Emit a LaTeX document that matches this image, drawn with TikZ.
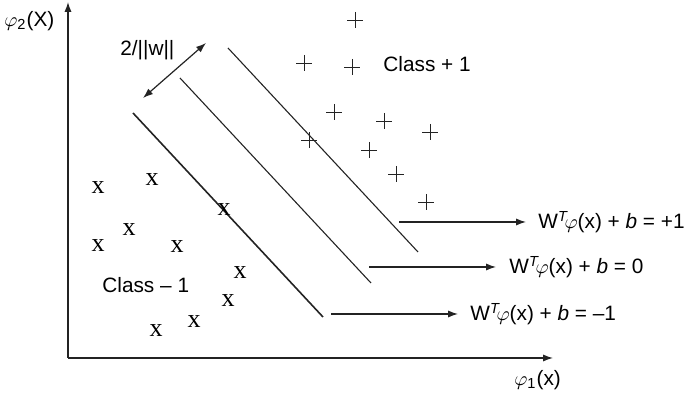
\documentclass[tikz,border=0pt]{standalone}
\usepackage{amsmath}
\usepackage{fontspec}
\setmainfont{Liberation Sans}
\newfontfamily\markfont{Liberation Serif}
\usepackage{tikz}
\usetikzlibrary{arrows.meta,positioning,calc}
\definecolor{inkgray}{RGB}{35,35,35}

\tikzset{
  axisline/.style={line width=0.6pt,inkgray,-{Latex[length=5pt,width=3.6pt]}},
  marginline/.style={line width=0.55pt,inkgray},
  pointer/.style={line width=0.6pt,inkgray,-{Latex[length=5pt,width=3.6pt]}},
  labeltext/.style={inner sep=0pt,anchor=west,font=\fontsize{10.4}{12}\selectfont},
  negmark/.style={inner sep=0pt,font=\markfont\fontsize{13}{13}\selectfont},
  posmark/.style={line width=0.45pt,inkgray}
}
\newcommand{\plusmark}[2]{\draw[posmark] (#1-8,#2) -- (#1+8,#2) (#1,#2-8) -- (#1,#2+8);}

\begin{document}
\begin{tikzpicture}[x=0.5pt,y=-0.5pt]
    \useasboundingbox (0,0) rectangle (687,395);

    % Feature space axes
    \coordinate (origin) at (68,358);
    \coordinate (ytop) at (68,2);
    \coordinate (xend) at (553,358);
    \draw[axisline] (origin) -- (ytop);
    \draw[axisline] (origin) -- (xend);
    \node[labeltext] (phitwo) at (4,21) {$\varphi_{\text{2}}$(X)};
    \node[labeltext] (phione) at (514,380) {$\varphi_{\text{1}}$(x)};

    % Margin and separating hyperplanes
    \coordinate (lowA) at (133,113);  \coordinate (lowB) at (323,317);
    \coordinate (midA) at (180,78);   \coordinate (midB) at (371,283);
    \coordinate (upA) at (228,48);    \coordinate (upB) at (418,252);
    \draw[marginline,line width=0.8pt] (lowA) -- (lowB);
    \draw[marginline] (midA) -- (midB);
    \draw[marginline] (upA) -- (upB);

    % Margin width
    \coordinate (gapA) at (143,98);
    \coordinate (gapB) at (206,43);
    \draw[pointer,{Latex[length=5pt,width=3.6pt]}-{Latex[length=5pt,width=3.6pt]}] (gapA) -- (gapB);
    \node[labeltext] (gaplabel) at (120,50) {2/||w||};

    % Hyperplane equations
    \coordinate (eqplusA) at (399,222);  \coordinate (eqplusB) at (526,222);
    \coordinate (eqzeroA) at (369,267);  \coordinate (eqzeroB) at (496,267);
    \coordinate (eqminusA) at (331,314); \coordinate (eqminusB) at (458,314);
    \draw[pointer] (eqplusA) -- (eqplusB);
    \draw[pointer] (eqzeroA) -- (eqzeroB);
    \draw[pointer] (eqminusA) -- (eqminusB);
    \node[labeltext,right=6pt of eqplusB] (eqplus) {W$^{\textit{T}}\!\varphi$(x) + \textit{b} = +1};
    \node[labeltext,right=6.5pt of eqzeroB] (eqzero) {W$^{\textit{T}}\!\varphi$(x) + \textit{b} = 0};
    \node[labeltext,right=6pt of eqminusB] (eqminus) {W$^{\textit{T}}\!\varphi$(x) + \textit{b} = –1};

    % Class +1 samples
    \foreach \px/\py in {355/20, 304/63, 352/67, 334/112, 384/121, 430/132,
                         309/140, 369/150, 396/174, 426/202}
        {\plusmark{\px}{\py}}
    \node[labeltext] (classpos) at (383,64) {Class + 1};

    % Class -1 samples
    \foreach \px/\py [count=\i] in {98/188, 152/180, 224/210, 129/230, 98/246,
                                    177/247, 240/273, 228/301, 194/322, 156/331}
        \node[negmark] (neg\i) at (\px,\py) {x};
    \node[labeltext] (classneg) at (102,285) {Class – 1};
\end{tikzpicture}
\end{document}
